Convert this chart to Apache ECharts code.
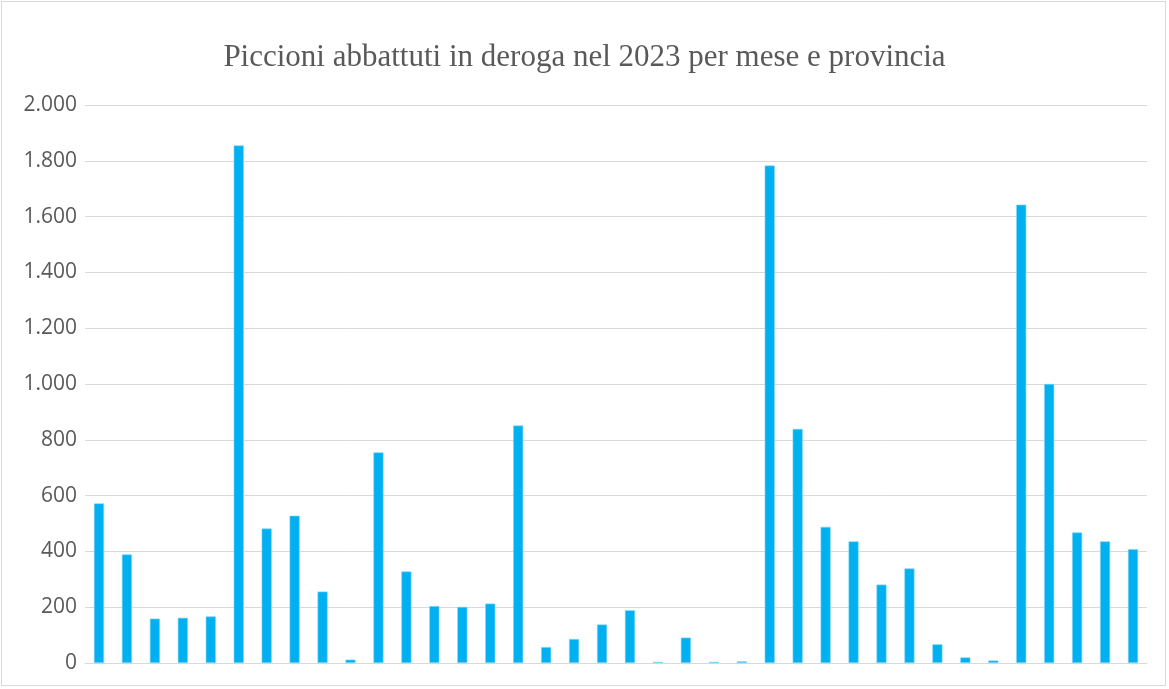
<!DOCTYPE html>
<html>
<head>
<meta charset="utf-8">
<script src="https://cdn.jsdelivr.net/npm/echarts@6/dist/echarts.min.js"></script>
<style>
html,body{margin:0;padding:0;background:#fff;}
#frame{position:absolute;left:1px;top:1px;width:1165px;height:685px;border:1px solid #d9d9d9;box-sizing:border-box;}
#chart{position:absolute;left:0;top:0;width:1169px;height:689px;}
</style>
</head>
<body>
<div id="frame"></div>
<div id="chart"></div>
<script>
const titleText = "Piccioni abbattuti in deroga nel 2023 per mese e provincia";
const categories = ["1","2","3","4","5","6","7","8","9","10","11","12","13","14","15","16","17","18","19","20","21","22","23","24","25","26","27","28","29","30","31","32","33","34","35","36","37","38"];
const values = [572, 389, 159, 162, 167, 1855, 482, 528, 256, 12, 755, 328, 204, 201, 213, 851, 57, 86, 138, 189, 4, 91, 4, 6, 1783, 839, 488, 436, 281, 339, 67, 20, 9, 1643, 1000, 468, 436, 408];
const yTicks = [0, 200, 400, 600, 800, 1000, 1200, 1400, 1600, 1800, 2000];

const chart = echarts.init(document.getElementById('chart'), null, {renderer: 'canvas'});
chart.setOption({
  backgroundColor: 'transparent',
  animation: false,
  title: {
    text: titleText,
    left: 'center',
    top: 37,
    textStyle: {fontFamily: 'Liberation Serif', fontWeight: 'normal', fontSize: 31, color: '#595959'}
  },
  grid: {left: 85, right: 22, top: 105, bottom: 26, containLabel: false},
  xAxis: {
    type: 'category',
    data: categories,
    axisLine: {show: true, lineStyle: {color: '#d9d9d9', width: 1}},
    axisTick: {show: false},
    axisLabel: {show: false}
  },
  yAxis: {
    type: 'value',
    min: yTicks[0],
    max: yTicks[yTicks.length - 1],
    interval: 200,
    axisLine: {show: false},
    axisTick: {show: false},
    splitLine: {lineStyle: {color: '#d9d9d9', width: 1}},
    axisLabel: {
      margin: 8,
      fontFamily: 'Open Sans',
      fontSize: 21,
      color: '#595959',
      formatter: v => v.toLocaleString('de-DE')
    }
  },
  series: [{
    type: 'bar',
    data: values,
    barWidth: '36%',
    itemStyle: {color: '#00B0F0', borderColor: '#7fd6f7', borderWidth: 0.6}
  }]
});
</script>
</body>
</html>
